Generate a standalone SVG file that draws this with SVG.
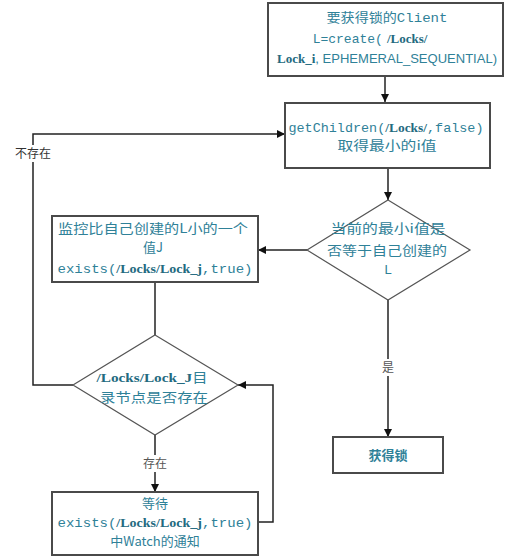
<svg xmlns="http://www.w3.org/2000/svg" width="512" height="560" viewBox="0 0 512 560">
<defs>
<marker id="arr" viewBox="0 0 10 10" refX="10" refY="5" markerWidth="8" markerHeight="8" markerUnits="userSpaceOnUse" orient="auto">
<path d="M0,0 L10,5 L0,10 Z" fill="#111"/>
</marker>
<style>
.box{fill:#fff;stroke:#4a4a4a;stroke-width:2}
.dia{fill:#fff;stroke:#555;stroke-width:1.2}
.ln{fill:none;stroke:#222;stroke-width:1.5}
text{font-family:"Noto Sans CJK SC",sans-serif;fill:#2f8198;font-size:13px;text-anchor:middle}
.m{font-family:"Liberation Mono","Noto Sans CJK SC",monospace}
.b{font-family:"Liberation Serif",serif;font-weight:bold;fill:#236a80}
.n{font-family:"Liberation Sans Narrow","Liberation Sans",sans-serif}
.lbl{fill:#555;font-size:12px}
</style>
</defs>
<g id="connectors">
<path class="ln" d="M385,76 V102" marker-end="url(#arr)"/>
<path class="ln" d="M388,168 V200" marker-end="url(#arr)"/>
<path class="ln" d="M307,250 H258" marker-end="url(#arr)"/>
<path class="ln" d="M388,300 V437" marker-end="url(#arr)"/>
<path class="ln" d="M155,282 V335"/>
<path class="ln" d="M155,435 V492" marker-end="url(#arr)"/>
<path class="ln" d="M258,522 H273 V385 H238" marker-end="url(#arr)"/>
<path class="ln" d="M73,385 H33 V134 H285" marker-end="url(#arr)"/>
<rect x="378" y="359" width="20" height="17" fill="#fff"/>
<text class="lbl" x="388" y="372">是</text>
<rect x="139" y="455" width="32" height="17" fill="#fff"/>
<text class="lbl" x="155" y="468">存在</text>
<rect x="14" y="145" width="38" height="17" fill="#fff"/>
<text class="lbl" x="33" y="158" style="fill:#333">不存在</text>
</g>
<g id="n1">
<rect class="box" x="268" y="3" width="235" height="73"/>
<text x="387" y="22" font-size="14" textLength="121" lengthAdjust="spacingAndGlyphs">要获得锁的<tspan class="m">Client</tspan></text>
<text x="370" y="43" font-size="15"><tspan class="m">L=create(</tspan><tspan class="b" dx="4">/Locks/</tspan></text>
<text x="387" y="63" font-size="14" textLength="220" lengthAdjust="spacingAndGlyphs"><tspan class="b">Lock_i</tspan><tspan class="n">, EPHEMERAL_SEQUENTIAL)</tspan></text>
</g>
<g id="n2">
<rect class="box" x="285" y="103" width="205" height="65"/>
<text x="386" y="132" textLength="195" lengthAdjust="spacingAndGlyphs"><tspan class="m">getChildren(</tspan><tspan class="b">/Locks/</tspan><tspan class="m">,false)</tspan></text>
<text x="387" y="150" textLength="99" lengthAdjust="spacingAndGlyphs">取得最小的i值</text>
</g>
<g id="d1">
<polygon class="dia" points="388,200 470,250 388,300 307,250"/>
<text x="388" y="233" textLength="115" lengthAdjust="spacingAndGlyphs">当前的最小i值是</text>
<text x="387" y="255" textLength="120" lengthAdjust="spacingAndGlyphs">否等于自己创建的</text>
<text x="388" y="274" class="n">L</text>
</g>
<g id="n3">
<rect class="box" x="52" y="216" width="206" height="66"/>
<text x="153" y="233" textLength="190" lengthAdjust="spacingAndGlyphs">监控比自己创建的L小的一个</text>
<text x="153" y="252">值J</text>
<text x="155" y="273" textLength="195" lengthAdjust="spacingAndGlyphs"><tspan class="m">exists(</tspan><tspan class="b">/Locks/Lock_j</tspan><tspan class="m">,true)</tspan></text>
</g>
<g id="d2">
<polygon class="dia" points="155,335 238,385 155,435 73,385"/>
<text x="152" y="382" textLength="111" lengthAdjust="spacingAndGlyphs"><tspan class="b">/Locks/Lock_J</tspan>目</text>
<text x="154" y="402" textLength="108" lengthAdjust="spacingAndGlyphs">录节点是否存在</text>
</g>
<g id="n4">
<rect class="box" x="52" y="492" width="206" height="63"/>
<text x="155" y="508">等待</text>
<text x="155" y="527" textLength="195" lengthAdjust="spacingAndGlyphs"><tspan class="m">exists(</tspan><tspan class="b">/Locks/Lock_j</tspan><tspan class="m">,true)</tspan></text>
<text x="155" y="546" font-size="12">中Watch的通知</text>
</g>
<g id="n5">
<rect class="box" x="333" y="437" width="110" height="36"/>
<text x="388" y="460" font-size="15" font-weight="bold">获得锁</text>
</g>
</svg>
